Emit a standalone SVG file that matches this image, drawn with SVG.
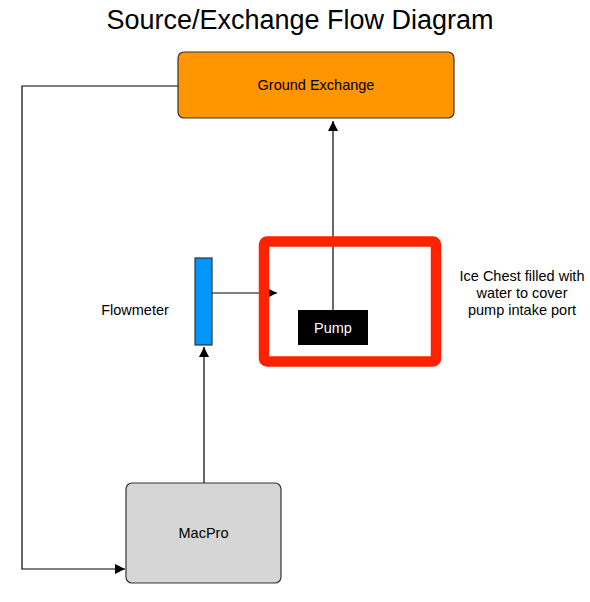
<svg xmlns="http://www.w3.org/2000/svg" width="590" height="602" viewBox="0 0 590 602">
<defs>
<style>
text{font-family:"Liberation Sans",Arial,sans-serif;fill:#000}
.lbl{font-size:14.5px}
.conn{stroke:#000;stroke-width:1.2;fill:none}
</style>
<marker id="arr" viewBox="0 0 10 10" refX="10" refY="5" markerWidth="11" markerHeight="10" markerUnits="userSpaceOnUse" orient="auto"><path d="M0,0 L10,5 L0,10 z" fill="#000"/></marker>
</defs>
<rect width="590" height="602" fill="#fff"/>
<text x="300" y="29" font-size="27" text-anchor="middle">Source/Exchange Flow Diagram</text>
<g id="connectors">
<path class="conn" d="M333,310 L333,121" marker-end="url(#arr)"/>
<path class="conn" d="M212,293 L277,293" marker-end="url(#arr)"/>
<path class="conn" d="M204,483 L204,347" marker-end="url(#arr)"/>
<path class="conn" d="M178,86 L22,86 L22,569 L125,569" marker-end="url(#arr)"/>
</g>
<g id="ground-exchange">
<rect x="178" y="52" width="276" height="66" rx="6" fill="#ff9500" stroke="#333" stroke-width="1.2"/>
<text class="lbl" x="316" y="90" text-anchor="middle">Ground Exchange</text>
</g>
<g id="ice-chest">
<rect x="264" y="241.5" width="172" height="120" rx="3" fill="none" stroke="#ff2200" stroke-width="10.5"/>
<text class="lbl" x="522" y="281" text-anchor="middle">Ice Chest filled with</text>
<text class="lbl" x="522" y="298" text-anchor="middle">water to cover</text>
<text class="lbl" x="522" y="315" text-anchor="middle">pump intake port</text>
</g>
<g id="pump">
<rect x="298" y="310" width="70" height="35" fill="#000"/>
<text class="lbl" x="333" y="333" text-anchor="middle" style="fill:#fff">Pump</text>
</g>
<g id="flowmeter">
<rect x="195" y="258" width="17" height="87" fill="#0096ff" stroke="#333" stroke-width="1.2"/>
<text class="lbl" x="135" y="315" text-anchor="middle">Flowmeter</text>
</g>
<g id="macpro">
<rect x="126" y="483" width="155" height="100" rx="6" fill="#d6d6d6" stroke="#333" stroke-width="1.2"/>
<text class="lbl" x="203.5" y="538" text-anchor="middle">MacPro</text>
</g>
</svg>
